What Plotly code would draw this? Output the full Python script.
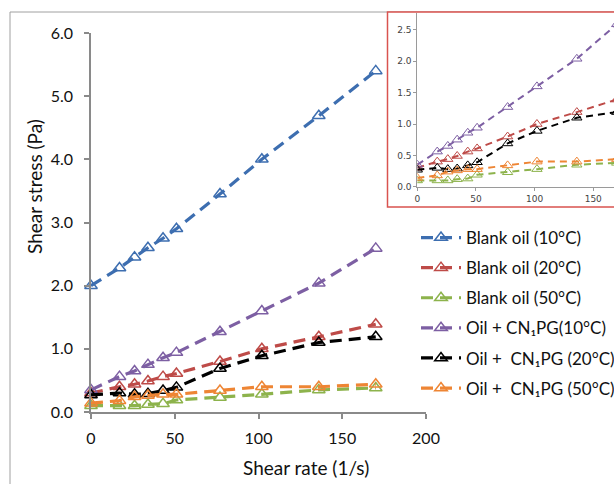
import plotly.graph_objects as go

W, H = 614, 484

shear_rate = [0, 17, 26, 34, 43, 51, 77, 102, 136, 170]

blank_10 = [2.0, 2.28, 2.45, 2.6, 2.75, 2.9, 3.45, 4.0, 4.69, 5.4]
blank_20 = [0.30, 0.40, 0.44, 0.49, 0.56, 0.61, 0.80, 1.00, 1.19, 1.39]
blank_50 = [0.10, 0.10, 0.10, 0.12, 0.13, 0.19, 0.23, 0.28, 0.35, 0.38]
cn_10 = [0.35, 0.56, 0.65, 0.75, 0.86, 0.94, 1.27, 1.60, 2.04, 2.59]
cn_20 = [0.27, 0.30, 0.28, 0.29, 0.34, 0.39, 0.69, 0.89, 1.10, 1.19]
cn_50 = [0.14, 0.18, 0.24, 0.26, 0.28, 0.28, 0.34, 0.40, 0.40, 0.44]

series_names = [
    "Blank oil (10°C)",
    "Blank oil (20°C)",
    "Blank oil (50°C)",
    "Oil + CN\u2081PG(10°C)",
    "Oil +  CN\u2081PG (20°C)",
    "Oil +  CN\u2081PG (50°C)",
]
series_values = [blank_10, blank_20, blank_50, cn_10, cn_20, cn_50]
series_colors = ["#3D6EB0", "#BE4B48", "#8DB34C", "#7D5FA3", "#000000", "#EE8534"]
inset_series = [False, True, True, True, True, True]

x_ticks = [0, 50, 100, 150, 200]
y_ticks = [0, 1, 2, 3, 4, 5, 6]
y_tick_text = ["0.0", "1.0", "2.0", "3.0", "4.0", "5.0", "6.0"]
inset_x_ticks = [0, 50, 100, 150]
inset_y_ticks = [0, 0.5, 1.0, 1.5, 2.0, 2.5]
inset_y_text = ["0.0", "0.5", "1.0", "1.5", "2.0", "2.5"]

def px_x(p):
    return p / W

def px_y(p):
    return (H - p) / H

fig = go.Figure()

for i, (name, vals, col) in enumerate(zip(series_names, series_values, series_colors)):
    fig.add_trace(go.Scatter(
        x=shear_rate, y=vals, name=name, mode="lines+markers",
        line=dict(color=col, width=3.2, dash="12px,7px"),
        marker=dict(symbol="triangle-up-open", size=11, color=col, line=dict(width=1.5, color=col)),
        legendgroup=f"g{i}", xaxis="x", yaxis="y", cliponaxis=False,
    ))

for i, (name, vals, col, show) in enumerate(zip(series_names, series_values, series_colors, inset_series)):
    if not show:
        continue
    fig.add_trace(go.Scatter(
        x=shear_rate, y=vals, name=name, mode="lines+markers", showlegend=False,
        line=dict(color=col, width=2, dash="7px,5px"),
        marker=dict(symbol="triangle-up-open", size=9, color=col, line=dict(width=1, color=col)),
        legendgroup=f"g{i}", xaxis="x2", yaxis="y2",
    ))

axis_col = "#8A8A8A"
fig.update_layout(
    width=W, height=H, autosize=False,
    margin=dict(l=0, r=0, t=0, b=0, autoexpand=False),
    paper_bgcolor="white", plot_bgcolor="rgba(0,0,0,0)",
    font=dict(family="Lato", size=15, color="#111"),
    showlegend=True,
    legend=dict(
        x=px_x(416), y=px_y(220), xanchor="left", yanchor="top",
        font=dict(family="Lato", size=17, color="#111"),
        tracegroupgap=5, bgcolor="rgba(0,0,0,0)", itemwidth=40,
    ),
    xaxis=dict(
        domain=[px_x(91), px_x(426)], range=[0, 200], tickvals=x_ticks,
        showline=True, linecolor=axis_col, linewidth=1.5, ticks="outside",
        ticklen=5, tickcolor=axis_col, tickwidth=1.5, showgrid=False, zeroline=False,
        anchor="y", tickfont=dict(size=16), ticklabelstandoff=6,
    ),
    yaxis=dict(
        domain=[px_y(412), px_y(33)], range=[0, 6], tickvals=y_ticks, ticktext=y_tick_text,
        showline=True, linecolor=axis_col, linewidth=1.5, ticks="outside",
        ticklen=5, tickcolor=axis_col, tickwidth=1.5, showgrid=False, zeroline=False,
        anchor="x", tickfont=dict(size=16), ticklabelstandoff=8,
    ),
    xaxis2=dict(
        domain=[px_x(417.3), 1.0], range=[0, (W - 417.3) / 1.173], tickvals=inset_x_ticks,
        showline=True, linecolor="#9a9a9a", linewidth=1, ticks="outside", ticklen=3,
        tickcolor="#9a9a9a", showgrid=False, zeroline=False, anchor="y2",
        tickfont=dict(family="DejaVu Sans", size=9, color="#444"),
    ),
    yaxis2=dict(
        domain=[px_y(186.7), px_y(13)], range=[0, (186.7 - 13) / 62.7], tickvals=inset_y_ticks,
        ticktext=inset_y_text,
        showline=True, linecolor="#9a9a9a", linewidth=1, ticks="outside", ticklen=3,
        tickcolor="#9a9a9a", showgrid=False, zeroline=False, anchor="x2",
        tickfont=dict(family="DejaVu Sans", size=9, color="#444"),
    ),
    shapes=[
        dict(type="rect", xref="paper", yref="paper", x0=px_x(10), x1=1.2, y0=-0.2, y1=px_y(12),
             line=dict(color="#A0A0A0", width=1), fillcolor="rgba(0,0,0,0)", layer="below"),
        dict(type="rect", xref="paper", yref="paper", x0=px_x(387.5), x1=1.2, y0=px_y(207), y1=px_y(12),
             line=dict(color="#D9534F", width=1.5), fillcolor="white", layer="below"),
    ],
    annotations=[
        dict(text="Shear stress (Pa)", xref="paper", yref="paper", x=px_x(34), y=px_y(187),
             showarrow=False, textangle=-90, font=dict(size=19), xanchor="center", yanchor="middle"),
        dict(text="Shear rate (1/s)", xref="paper", yref="paper", x=px_x(306), y=px_y(467),
             showarrow=False, font=dict(size=19), xanchor="center", yanchor="middle"),
    ],
)

post = (
    "document.documentElement.style.margin='0';"
    "document.body.style.margin='0';"
    "document.body.style.overflow='hidden';"
    "var gd=document.getElementById('{plot_id}');"
    "Plotly.relayout(gd,{width:%d,height:%d});" % (W, H)
)

fig.write_html("out.html", config={"responsive": False}, post_script=post)
